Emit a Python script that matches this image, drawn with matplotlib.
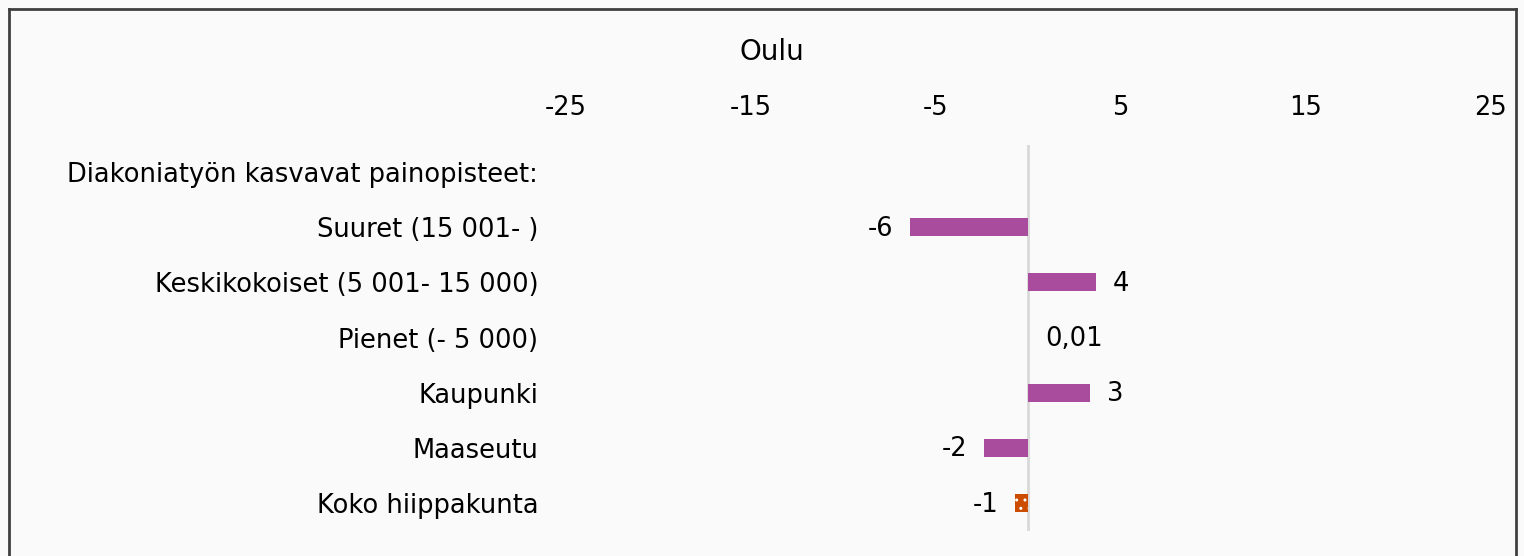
import matplotlib.pyplot as plt
from matplotlib.lines import Line2D

categories = ["Diakoniatyön kasvavat painopisteet:", "Suuret (15 001- )",
              "Keskikokoiset (5 001- 15 000)", "Pienet (- 5 000)",
              "Kaupunki", "Maaseutu", "Koko hiippakunta"]
values = [None, -6.4, 3.7, 0.01, 3.35, -2.4, -0.7]
labels = ["", "-6", "4", "0,01", "3", "-2", "-1"]
ticks = [-25, -15, -5, 5, 15, 25]

W, H = 1524, 556
fig = plt.figure(figsize=(W / 100, H / 100), dpi=100, facecolor="#fafafa")
ax = fig.add_axes([566 / W, 1 - 530.5 / H, (1490 - 566) / W, (530.5 - 144.5) / H])
ax.set_facecolor("#fafafa")

fs = 18.5
n = len(categories)
for i, (v, lab) in enumerate(zip(values, labels)):
    if v is None:
        continue
    if i == n - 1:
        ax.barh(i, v, height=0.33, color="#cc4c02", edgecolor="white",
                hatch="..", linewidth=0)
    else:
        ax.barh(i, v, height=0.33, color="#a94c9e", linewidth=0)
    off = 0.9
    if v < 0:
        ax.text(v - off, i + 0.03, lab, ha="right", va="center", fontsize=fs)
    else:
        ax.text(v + off, i + 0.03, lab, ha="left", va="center", fontsize=fs)

ax.axvline(0, color="#d9d9d9", linewidth=2, zorder=0)
ax.set_xlim(-25, 25)
ax.set_ylim(n - 0.5, -0.5)
ax.set_yticks(range(n))
ax.set_yticklabels(categories, fontsize=fs)
ax.set_xticks(ticks)
ax.set_xticklabels([str(t) for t in ticks], fontsize=fs)
ax.xaxis.tick_top()
ax.tick_params(length=0, pad=17)
ax.tick_params(axis="y", pad=20)
for s in ax.spines.values():
    s.set_visible(False)

fig.text(772 / W, 1 - 52 / H, "Oulu", ha="center", va="center", fontsize=20)

# outer frame
x0, x1, y0 = 8.5 / W, 1516 / W, 1 - 8.5 / H
fig.add_artist(Line2D([x0, x0], [0, y0], color="#404040", lw=2))
fig.add_artist(Line2D([x0, x1], [y0, y0], color="#404040", lw=2))
fig.add_artist(Line2D([x1, x1], [0, y0], color="#404040", lw=2))

fig.savefig("out.png", dpi=100, facecolor=fig.get_facecolor())
